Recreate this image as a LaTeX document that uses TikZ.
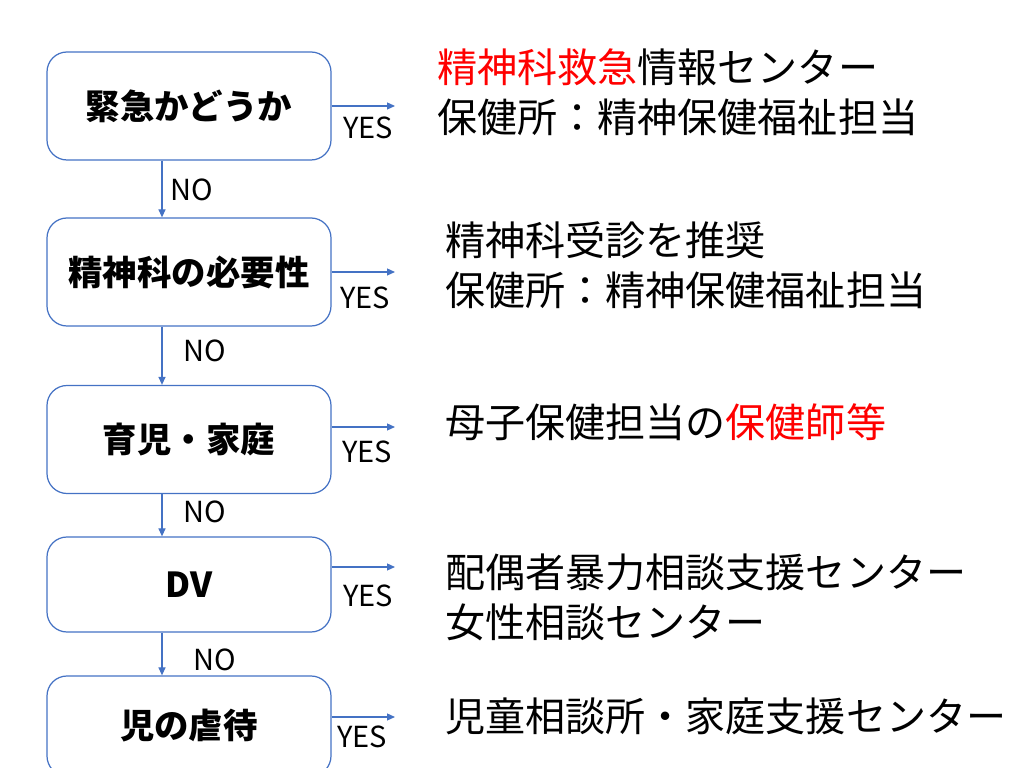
\documentclass[tikz,border=0pt]{standalone}
\usepackage{fontspec}
\setmainfont{Noto Sans CJK JP}
\definecolor{fcBlue}{HTML}{4472C4}
\definecolor{fcRed}{HTML}{FF0000}
\definecolor{fcText}{HTML}{000000}
\usetikzlibrary{positioning,arrows.meta}
\tikzset{
  flowbox/.style={draw=fcBlue, line width=0.7pt, rounded corners=0.4cm,
    minimum width=5.68cm, minimum height=2.16cm, text=fcText,
    font=\fontsize{19.6}{23}\selectfont\bfseries},
  flowarrow/.style={draw=fcBlue, line width=0.7pt, -{Triangle[length=1.6mm,width=1.4mm]}},
  answer/.style={text=fcText, font=\fontsize{16.5}{19}\selectfont},
  result/.style={anchor=west, align=left, inner sep=0pt, text=fcText,
    font=\fontsize{22.8}{28.5}\selectfont},
}

\begin{document}
\begin{tikzpicture}[x=0.2mm,y=-0.2mm]
  \useasboundingbox (0,0) rectangle (1024,768);
  \clip (0,0) rectangle (1024,768);

  % -- Question boxes --
  \node[flowbox] (b1) at (189,106) {緊急かどうか};
  \node[flowbox] (b2) at (189,272) {精神科の必要性};
  \node[flowbox] (b3) at (189,439.5) {育児・家庭};
  \node[flowbox, minimum height=1.9cm] (b4) at (189,584.5) {DV};
  \node[flowbox, minimum height=2cm] (b5) at (189,726) {児の虐待};

  % -- NO arrows --
  \draw[flowarrow] ([xshift=-0.54cm]b1.south) -- ([xshift=-0.54cm]b2.north);
  \draw[flowarrow] ([xshift=-0.54cm]b2.south) -- ([xshift=-0.54cm]b3.north);
  \draw[flowarrow] ([xshift=-0.54cm]b3.south) -- ([xshift=-0.54cm]b4.north);
  \draw[flowarrow] ([xshift=-0.54cm]b4.south) -- ([xshift=-0.54cm]b5.north);
  \node[answer] (n1) at (192,190) {NO};
  \node[answer] (n2) at (205,351) {NO};
  \node[answer] (n3) at (205,512) {NO};
  \node[answer] (n4) at (215,660) {NO};

  % -- YES arrows --
  \coordinate (e1) at (395,106);
  \coordinate (e2) at (395,272);
  \coordinate (e3) at (395,427);
  \coordinate (e4) at (395,567);
  \coordinate (e5) at (395,717);
  \foreach \i in {1,...,5}
    \draw[flowarrow] (e\i -| b\i.east) -- (e\i);
  \node[answer] (y1) at (368,128) {YES};
  \node[answer] (y2) at (365,298) {YES};
  \node[answer] (y3) at (367,452) {YES};
  \node[answer] (y4) at (368,596) {YES};
  \node[answer] (y5) at (362,737) {YES};

  % -- Where to go --
  \node[result] (r1) at (437,92) {\textcolor{fcRed}{精神科救急}情報センター\\保健所：精神保健福祉担当};
  \node[result] (r2) at (445,265) {精神科受診を推奨\\保健所：精神保健福祉担当};
  \node[result] (r3) at (445,422) {母子保健担当の\textcolor{fcRed}{保健師等}};
  \node[result] (r4) at (445,597.5) {配偶者暴力相談支援センター\\女性相談センター};
  \node[result] (r5) at (445,716) {児童相談所・家庭支援センター};
\end{tikzpicture}
\end{document}
